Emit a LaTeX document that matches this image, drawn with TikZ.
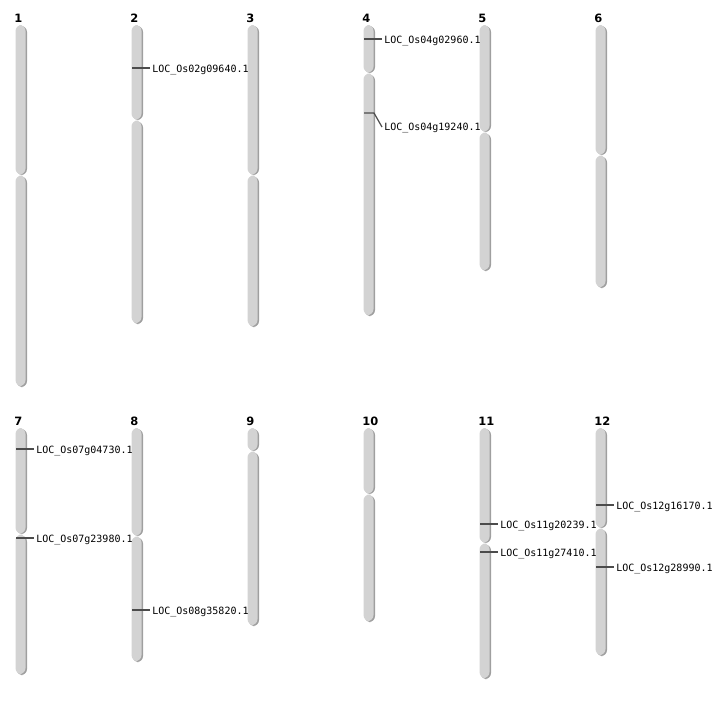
\documentclass[tikz,border=0pt]{standalone}
\usepackage{fontspec}
\newfontfamily\genefont{DejaVu Sans Mono}
\newfontfamily\chrfont{DejaVu Sans}
\usetikzlibrary{positioning}

\begin{document}
\begin{tikzpicture}[x=0.75pt, y=-0.75pt,
	chrom/.style = {fill=chromgray, rounded corners=4.5},
	chromshade/.style = {fill=gray!75, rounded corners=4.5},
	chrname/.style = {anchor=base west, inner sep=0, font=\chrfont\bfseries\fontsize{8.6}{10}\selectfont},
	gene/.style = {anchor=west, inner sep=1.5, font=\genefont\fontsize{7.5}{9}\selectfont},
	tick/.style = {draw=black!70, line width=0.9pt}]
	\definecolor{chromgray}{HTML}{D3D3D3}
	\useasboundingbox (0,0) rectangle (712,700);

	% chromosomes: number / centre x / top / centromere / bottom
	\foreach \n/\cx/\t/\c/\b in {1/21/25/175/386, 2/137/25/120/323, 3/253/25/175/326,
		4/369/25/73/315, 5/485/25/132/270, 6/601/25/155/287,
		7/21/428/534/674, 8/137/428/536/661, 9/253/428/451/625,
		10/369/428/494/621, 11/485/428/543/678, 12/601/428/528/655} {
		\node[chrname] (c\n) at (\cx-7,\t-3) {\n};
		\fill[chromshade] (\cx-4.5,\t+1) rectangle (\cx+6,\c);
		\fill[chromshade] (\cx-4.5,\c+1.5) rectangle (\cx+6,\b+1);
		\fill[chrom] (\cx-5.5,\t) rectangle (\cx+4.5,\c-0.5);
		\fill[chrom] (\cx-5.5,\c+0.5) rectangle (\cx+4.5,\b);
	}

	% gene positions
	\coordinate (m2) at (132,68);
	\coordinate (m4a) at (364,39);
	\coordinate (m4b) at (364,113);
	\coordinate (m7a) at (16,449);
	\coordinate (m7b) at (16,538);
	\coordinate (m8) at (132,610);
	\coordinate (m11a) at (480,524);
	\coordinate (m11b) at (480,552);
	\coordinate (m12a) at (596,505);
	\coordinate (m12b) at (596,567);

	\node[gene] (g2) at (150,70) {LOC\_Os02g09640.1};
	\node[gene] (g4a) at (382,41) {LOC\_Os04g02960.1};
	\node[gene] (g4b) at (382,128) {LOC\_Os04g19240.1};
	\node[gene] (g7a) at (34,451) {LOC\_Os07g04730.1};
	\node[gene] (g7b) at (34,540) {LOC\_Os07g23980.1};
	\node[gene] (g8) at (150,612) {LOC\_Os08g35820.1};
	\node[gene] (g11a) at (498,526) {LOC\_Os11g20239.1};
	\node[gene] (g11b) at (498,554) {LOC\_Os11g27410.1};
	\node[gene] (g12a) at (614,507) {LOC\_Os12g16170.1};
	\node[gene] (g12b) at (614,569) {LOC\_Os12g28990.1};

	\draw[tick] (m2) -- (m2 -| g2.west);
	\draw[tick] (m4a) -- (m4a -| g4a.west);
	\draw[tick] (m4b) -- ++(10,0) -- ([yshift=0.75pt]g4b.west);
	\draw[tick] (m7a) -- (m7a -| g7a.west);
	\draw[tick] (m7b) -- (m7b -| g7b.west);
	\draw[tick] (m8) -- (m8 -| g8.west);
	\draw[tick] (m11a) -- (m11a -| g11a.west);
	\draw[tick] (m11b) -- (m11b -| g11b.west);
	\draw[tick] (m12a) -- (m12a -| g12a.west);
	\draw[tick] (m12b) -- (m12b -| g12b.west);
\end{tikzpicture}
\end{document}
